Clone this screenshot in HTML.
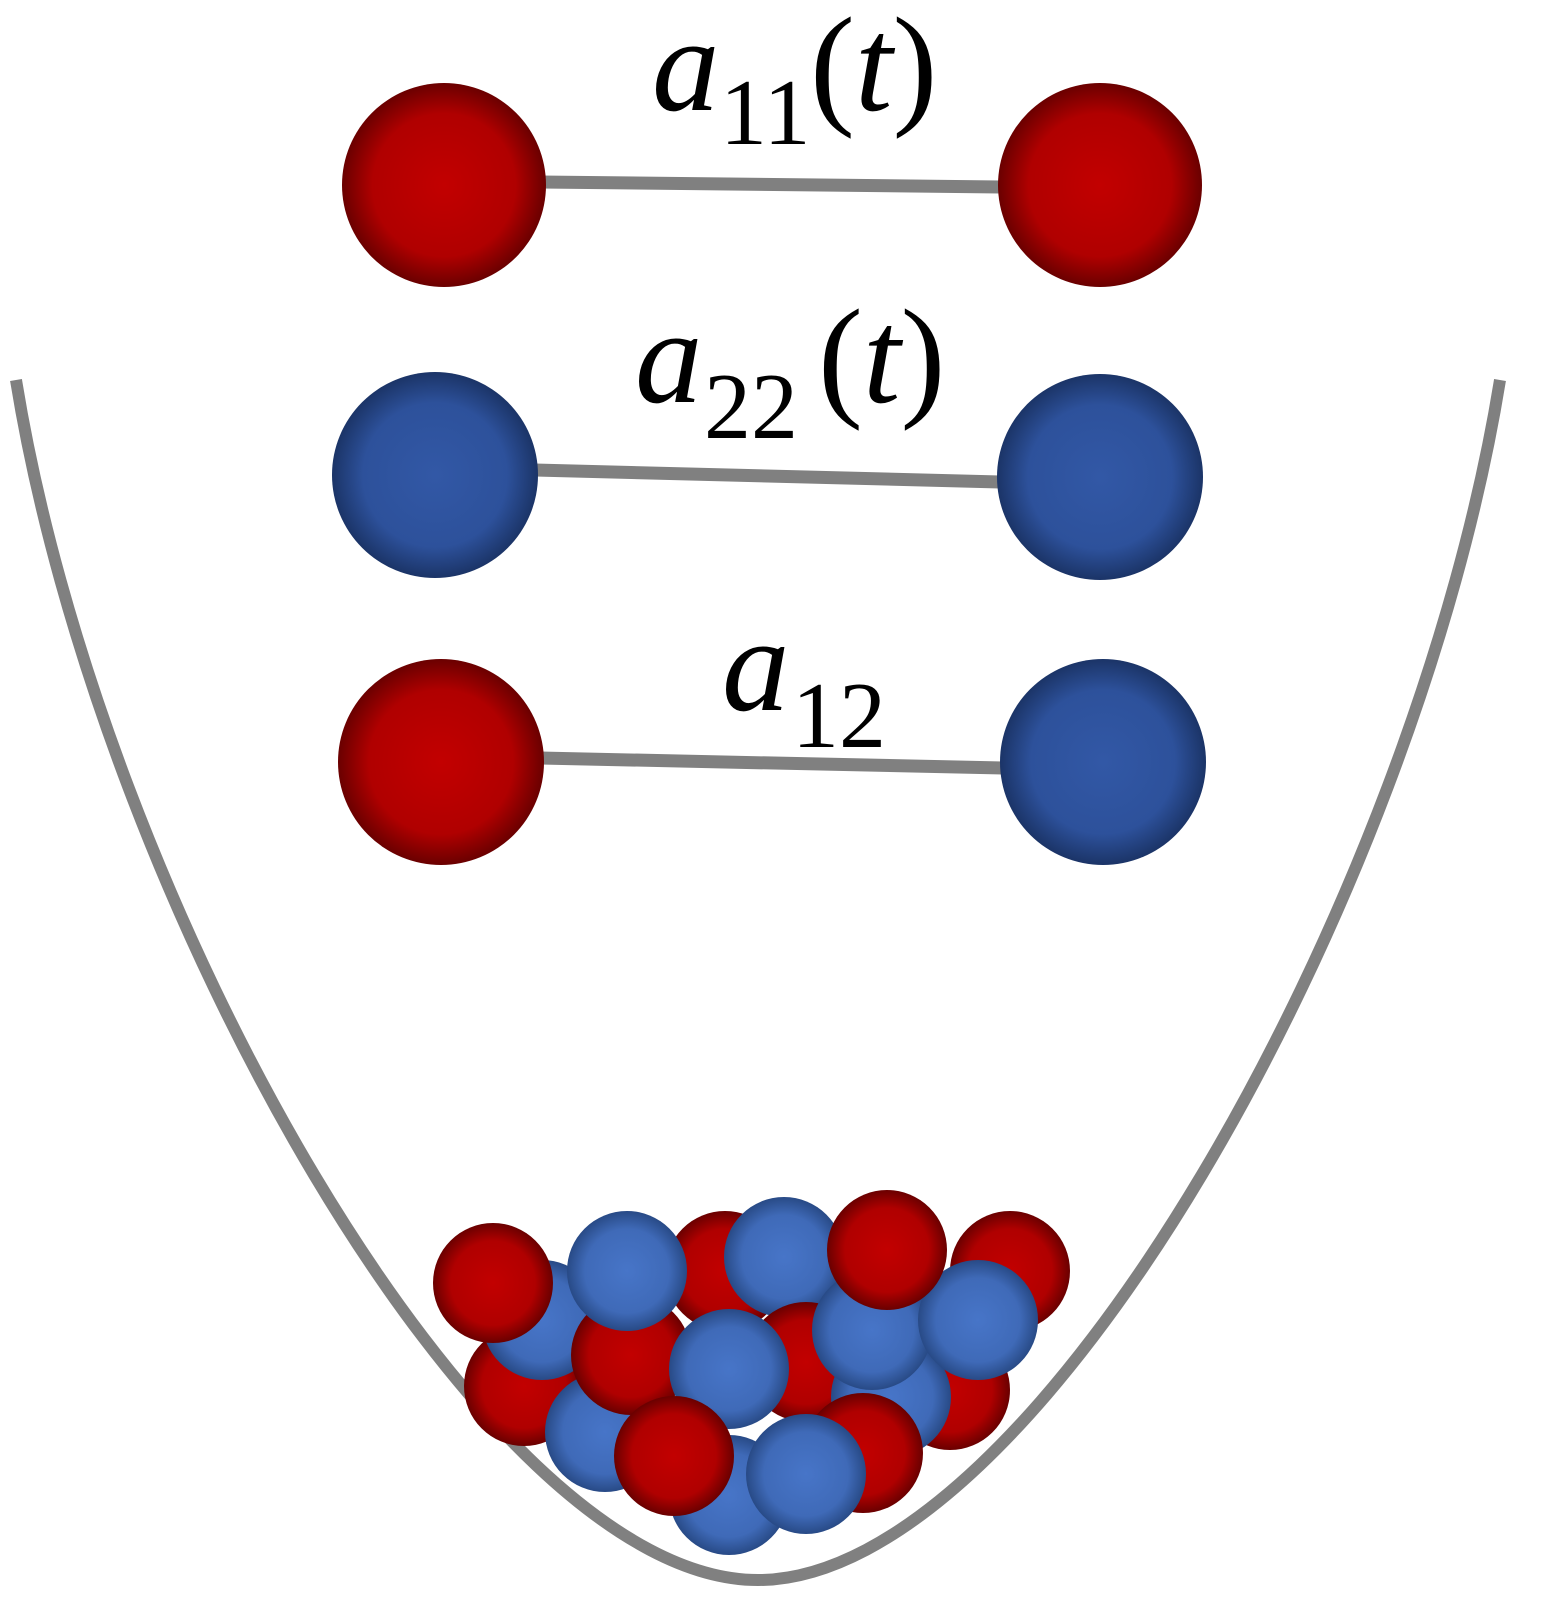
<!DOCTYPE html>
<html><head><meta charset="utf-8"><style>
html,body{margin:0;padding:0;background:#fff;width:1556px;height:1600px;overflow:hidden}
svg{display:block}
</style></head><body>
<svg width="1556" height="1600" viewBox="0 0 1556 1600" xmlns="http://www.w3.org/2000/svg">
<defs>
<radialGradient id="r" cx="0.5" cy="0.5" r="0.5">
<stop offset="0" stop-color="#c20000"/><stop offset="0.7" stop-color="#b00000"/><stop offset="1" stop-color="#6a0000"/></radialGradient>
<radialGradient id="b" cx="0.5" cy="0.5" r="0.5">
<stop offset="0" stop-color="#3258a6"/><stop offset="0.7" stop-color="#2d519b"/><stop offset="1" stop-color="#1b3467"/></radialGradient>
<radialGradient id="c" cx="0.5" cy="0.5" r="0.5">
<stop offset="0" stop-color="#4775c8"/><stop offset="0.7" stop-color="#3f6ab8"/><stop offset="1" stop-color="#284a86"/></radialGradient>
</defs>
<path fill="none" stroke="#808080" stroke-width="12" d="M16,380 C100,900 480,1580 758,1580 C1036,1580 1416,900 1500,380"/>
<g stroke="#808080" stroke-width="13">
<line x1="540" y1="182" x2="1000" y2="187"/>
<line x1="535" y1="470" x2="1000" y2="482"/>
<line x1="540" y1="758" x2="1003" y2="768"/>
</g>
<circle cx="444" cy="185" r="102" fill="url(#r)"/>
<circle cx="1100" cy="185" r="102" fill="url(#r)"/>
<circle cx="435" cy="475" r="103" fill="url(#b)"/>
<circle cx="1100" cy="477" r="103" fill="url(#b)"/>
<circle cx="441" cy="762" r="103" fill="url(#r)"/>
<circle cx="1103" cy="762" r="103" fill="url(#b)"/>
<g font-family="Liberation Serif, Times New Roman, serif" fill="#000">
<text y="110" font-size="135"><tspan x="652" font-style="italic">a</tspan><tspan x="720" y="144" font-size="94">11</tspan><tspan x="810" y="110">(</tspan><tspan font-style="italic">t</tspan><tspan>)</tspan></text>
<text y="402" font-size="135"><tspan x="635" font-style="italic">a</tspan><tspan x="704" y="438" font-size="94">22</tspan><tspan x="818" y="402">(</tspan><tspan font-style="italic">t</tspan><tspan>)</tspan></text>
<text y="710" font-size="135"><tspan x="722" font-style="italic">a</tspan><tspan x="792" y="747" font-size="94">12</tspan></text>
</g>
<g>
<circle cx="524" cy="1386" r="60" fill="url(#r)"/>
<circle cx="542" cy="1320" r="60" fill="url(#c)"/>
<circle cx="725" cy="1271" r="60" fill="url(#r)"/>
<circle cx="784" cy="1257" r="60" fill="url(#c)"/>
<circle cx="1010" cy="1271" r="60" fill="url(#r)"/>
<circle cx="806" cy="1362" r="60" fill="url(#r)"/>
<circle cx="950" cy="1390" r="60" fill="url(#r)"/>
<circle cx="891" cy="1397" r="60" fill="url(#c)"/>
<circle cx="729" cy="1495" r="60" fill="url(#c)"/>
<circle cx="605" cy="1432" r="60" fill="url(#c)"/>
<circle cx="631" cy="1355" r="60" fill="url(#r)"/>
<circle cx="729" cy="1369" r="60" fill="url(#c)"/>
<circle cx="863" cy="1453" r="60" fill="url(#r)"/>
<circle cx="872" cy="1330" r="60" fill="url(#c)"/>
<circle cx="978" cy="1320" r="60" fill="url(#c)"/>
<circle cx="887" cy="1250" r="60" fill="url(#r)"/>
<circle cx="493" cy="1283" r="60" fill="url(#r)"/>
<circle cx="627" cy="1271" r="60" fill="url(#c)"/>
<circle cx="674" cy="1456" r="60" fill="url(#r)"/>
<circle cx="806" cy="1474" r="60" fill="url(#c)"/>
</g>
</svg>
</body></html>
